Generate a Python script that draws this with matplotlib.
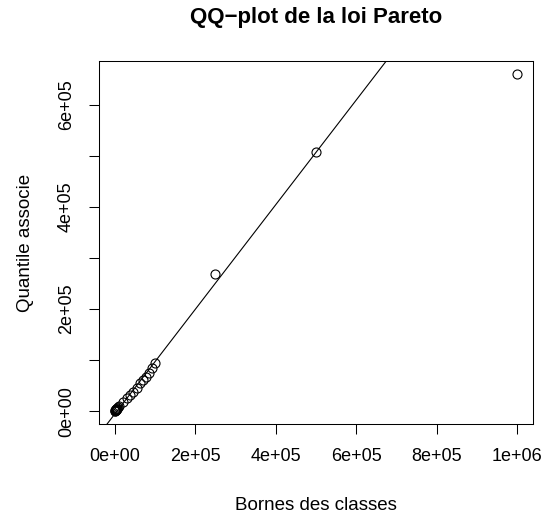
import numpy as np
import matplotlib.pyplot as plt

# class bounds (x) and associated Pareto quantiles (y)
bornes = [500, 1000, 1500, 2000, 2500, 3000, 3500, 4000, 5000, 6000, 8000, 10000,
          20000, 30000, 37500, 45000, 55000, 62500, 70000, 77500, 85000, 92500, 100000,
          250000, 500000, 1000000]
quantiles = [450, 900, 1400, 1800, 2300, 2700, 3200, 3600, 4500, 5400, 7200, 9000,
             18000, 25000, 31000, 38000, 46000, 55000, 61000, 67000, 75000, 84000, 94000,
             268500, 507000, 660000]

# reference line
line_slope = 1.025
line_intercept = -5500

x_ticks = [0, 2e5, 4e5, 6e5, 8e5, 1e6]
x_labels = ['0e+00', '2e+05', '4e+05', '6e+05', '8e+05', '1e+06']
y_ticks = [0, 1e5, 2e5, 3e5, 4e5, 5e5, 6e5]
y_labels = ['0e+00', '', '2e+05', '', '4e+05', '', '6e+05']

plt.rcParams['font.family'] = ['Liberation Sans', 'DejaVu Sans']

W, H = 543, 521
fig = plt.figure(figsize=(W / 100, H / 100), dpi=100)
ax = fig.add_axes([99 / W, (H - 424.3) / H, (533 - 99) / W, (424.3 - 61) / H])

x = np.array(bornes, dtype=float)
y = np.array(quantiles, dtype=float)

ax.plot(x, y, 'o', mfc='none', mec='black', ms=6.5, mew=0.8)
ax.axline((0, line_intercept), slope=line_slope, color='black', lw=0.8)

# R-style 4% padding
xr = x.max() - x.min()
yr = y.max() - y.min()
ax.set_xlim(x.min() - 0.04 * xr, x.max() + 0.04 * xr)
ax.set_ylim(y.min() - 0.04 * yr, y.max() + 0.04 * yr)

ax.set_xticks(x_ticks)
ax.set_xticklabels(x_labels)
ax.set_yticks(y_ticks)
ax.set_yticklabels(y_labels, rotation=90, va='center')
ax.tick_params(axis='both', direction='out', length=7.2, width=0.75, labelsize=13, pad=10)

for s in ax.spines.values():
    s.set_linewidth(0.75)

ax.set_xlabel('Bornes des classes', fontsize=13.5, va='center')
ax.xaxis.set_label_coords(0.5, (424.3 - 506) / 363.3)
ax.set_ylabel('Quantile associe', fontsize=13.5, va='center')
ax.yaxis.set_label_coords((25 - 99) / 434, 0.5)

fig.text(316 / W, 1 - 17 / H, 'QQ\u2212plot de la loi Pareto', fontsize=16,
         fontweight='bold', ha='center', va='center')

fig.savefig('out.png', dpi=100)
